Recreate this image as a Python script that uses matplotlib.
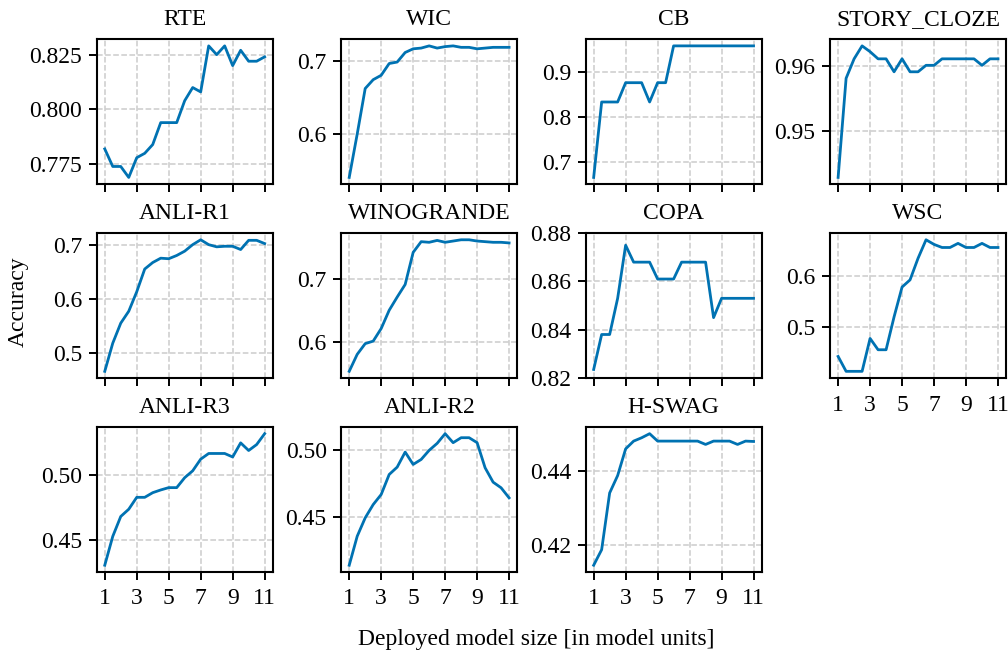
import numpy as np
import matplotlib
matplotlib.use("Agg")
import matplotlib.pyplot as plt

# model size axis: 1 .. 11 in half steps
sizes = [1, 1.5, 2, 2.5, 3, 3.5, 4, 4.5, 5, 5.5, 6, 6.5, 7, 7.5, 8, 8.5, 9, 9.5, 10, 10.5, 11]
x_ticks = [1, 3, 5, 7, 9, 11]

tasks = ["RTE", "WIC", "CB", "STORY_CLOZE",
         "ANLI-R1", "WINOGRANDE", "COPA", "WSC",
         "ANLI-R3", "ANLI-R2", "H-SWAG"]

rte = [0.782, 0.774, 0.774, 0.769, 0.778, 0.780, 0.784, 0.794, 0.794, 0.794, 0.804,
       0.810, 0.808, 0.829, 0.825, 0.829, 0.820, 0.827, 0.822, 0.822, 0.824]
wic = [0.541, 0.600, 0.662, 0.674, 0.680, 0.696, 0.698, 0.711, 0.716, 0.717, 0.720,
       0.717, 0.719, 0.720, 0.718, 0.718, 0.716, 0.717, 0.718, 0.718, 0.718]
cb = [0.665, 0.833, 0.833, 0.833, 0.876, 0.876, 0.876, 0.833, 0.876, 0.876, 0.958,
      0.958, 0.958, 0.958, 0.958, 0.958, 0.958, 0.958, 0.958, 0.958, 0.958]
story_cloze = [0.9428, 0.9581, 0.9611, 0.9631, 0.9622, 0.9611, 0.9611, 0.9591, 0.9611,
               0.9591, 0.9591, 0.9601, 0.9601, 0.9611, 0.9611, 0.9611, 0.9611, 0.9611,
               0.9601, 0.9611, 0.9611]
anli_r1 = [0.466, 0.518, 0.555, 0.577, 0.613, 0.655, 0.667, 0.675, 0.674, 0.680, 0.688,
           0.700, 0.709, 0.700, 0.696, 0.697, 0.697, 0.691, 0.708, 0.708, 0.702]
winogrande = [0.554, 0.581, 0.598, 0.602, 0.622, 0.651, 0.672, 0.692, 0.743, 0.760, 0.759,
              0.762, 0.759, 0.761, 0.763, 0.763, 0.761, 0.760, 0.759, 0.759, 0.758]
copa = [0.8235, 0.838, 0.838, 0.853, 0.875, 0.868, 0.868, 0.868, 0.861, 0.861, 0.861,
        0.868, 0.868, 0.868, 0.868, 0.845, 0.853, 0.853, 0.853, 0.853, 0.853]
wsc = [0.443, 0.414, 0.414, 0.414, 0.478, 0.456, 0.456, 0.520, 0.578, 0.592, 0.634,
       0.670, 0.661, 0.655, 0.655, 0.663, 0.655, 0.655, 0.663, 0.655, 0.655]
anli_r3 = [0.4303, 0.4526, 0.468, 0.4736, 0.4828, 0.4828, 0.4864, 0.4885, 0.4903, 0.4903,
           0.498, 0.5033, 0.5123, 0.5167, 0.5167, 0.5167, 0.514, 0.5249, 0.519, 0.5236, 0.532]
anli_r2 = [0.4142, 0.4358, 0.4495, 0.4594, 0.4669, 0.4818, 0.4873, 0.4985, 0.4893, 0.493,
           0.4998, 0.505, 0.5122, 0.5055, 0.5092, 0.5092, 0.5055, 0.4868, 0.4761, 0.4719, 0.4644]
h_swag = [0.4146, 0.4188, 0.4341, 0.4388, 0.446, 0.4481, 0.449, 0.4501, 0.4481, 0.4481,
          0.4481, 0.4481, 0.4481, 0.4481, 0.4472, 0.4481, 0.4481, 0.4481, 0.4472, 0.4481, 0.448]

series = [rte, wic, cb, story_cloze, anli_r1, winogrande, copa, wsc, anli_r3, anli_r2, h_swag]

y_ticks = [[0.775, 0.800, 0.825], [0.6, 0.7], [0.7, 0.8, 0.9], [0.95, 0.96],
           [0.5, 0.6, 0.7], [0.6, 0.7], [0.82, 0.84, 0.86, 0.88], [0.5, 0.6],
           [0.45, 0.50], [0.45, 0.50], [0.42, 0.44]]


def main():
    plt.rcParams["font.family"] = ["Liberation Serif", "DejaVu Serif"]
    plt.rcParams["font.size"] = 17

    fig, axes = plt.subplots(3, 4, figsize=(10.08, 6.55), dpi=100, sharex=True)
    fig.subplots_adjust(left=0.096, right=0.998, top=0.940, bottom=0.127,
                        wspace=0.39, hspace=0.34)

    for i, ax in enumerate(axes.flat[:len(tasks)]):
        ax.plot(sizes, series[i], color="#0072B2", lw=2.0)
        ax.set_title(tasks[i], fontsize=17, pad=10)
        ax.set_yticks(y_ticks[i])
        ax.set_xticks(x_ticks)
        ax.grid(True, ls="--", color="#cccccc", lw=1.1)
        ax.set_axisbelow(True)
        ax.tick_params(direction="out", length=6, width=1.4, labelsize=17)
        ax.tick_params(axis="y", pad=4.5)
        ax.tick_params(axis="x", pad=6)
        for s in ax.spines.values():
            s.set_linewidth(1.5)
        if tasks[i] == "COPA":
            ax.set_ylim(0.82, 0.88)

    axes[2, 3].remove()
    axes[1, 3].tick_params(labelbottom=True)

    fig.text(0.018, 0.539, "Accuracy", rotation=90, va="center", ha="center", fontsize=17)
    fig.text(0.532, 0.023, "Deployed model size [in model units]", va="center",
             ha="center", fontsize=17)

    plt.savefig("out.png", dpi=100)


if __name__ == "__main__":
    main()
